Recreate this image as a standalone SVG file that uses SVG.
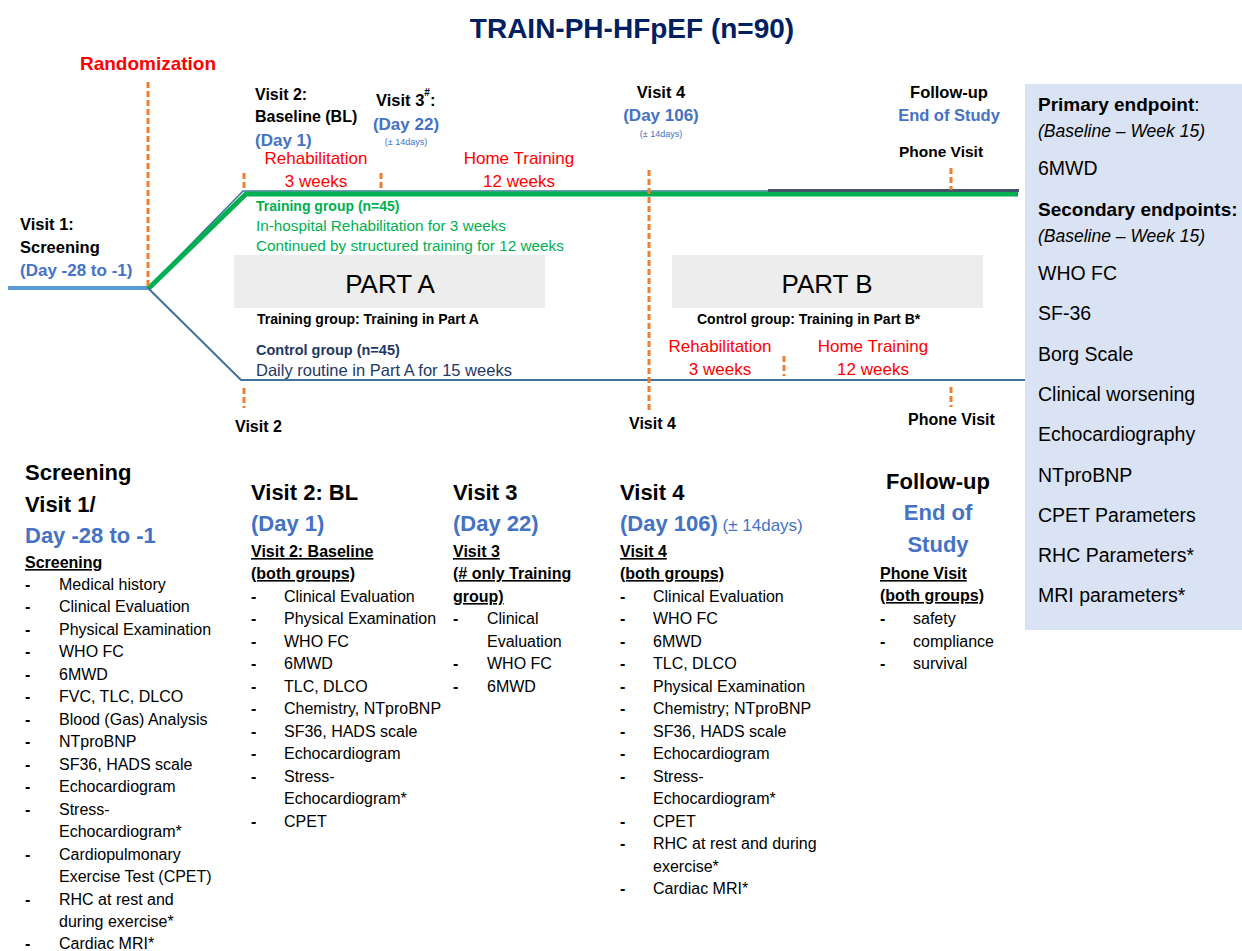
<svg xmlns="http://www.w3.org/2000/svg" width="1242" height="951" viewBox="0 0 1242 951">
<style>
text{font-family:"Liberation Sans",Arial,sans-serif;fill:#000}
.b{font-weight:bold}
.blue{fill:#4472C4}
.red{fill:#FF0000}
.green{fill:#00B050}
.navy{fill:#1F3864}
.m{text-anchor:middle}
.u{text-decoration:underline}
.od{stroke:#ED7D31;stroke-width:3;stroke-dasharray:6,3;fill:none}
.it{font-size:16px}
.dash{font-weight:bold}
.rp{font-size:19.5px}
.hd{font-size:22px;font-weight:bold}
</style>
<rect width="1242" height="951" fill="#fff"/>
<g id="title"><text x="632" y="38" class="b m" fill="#002060" style="fill:#002060" font-size="28">TRAIN-PH-HFpEF (n=90)</text></g>

<g id="endpoints-panel">
<rect x="1025" y="84" width="217" height="546" fill="#DAE3F3"/>
<text x="1038" y="111" font-size="19"><tspan class="b">Primary endpoint</tspan>:</text>
<text x="1038" y="137" font-size="17.5" font-style="italic">(Baseline – Week 15)</text>
<text x="1038" y="175" class="rp">6MWD</text>
<text x="1038" y="216" font-size="19" class="b">Secondary endpoints:</text>
<text x="1038" y="242" font-size="17.5" font-style="italic">(Baseline – Week 15)</text>
<text x="1038" y="280" class="rp">WHO FC</text>
<text x="1038" y="320" class="rp">SF-36</text>
<text x="1038" y="361" class="rp">Borg Scale</text>
<text x="1038" y="401" class="rp">Clinical worsening</text>
<text x="1038" y="441" class="rp">Echocardiography</text>
<text x="1038" y="482" class="rp">NTproBNP</text>
<text x="1038" y="522" class="rp">CPET Parameters</text>
<text x="1038" y="562" class="rp">RHC Parameters*</text>
<text x="1038" y="602" class="rp">MRI parameters*</text>
</g>

<g id="connectors">
<line x1="8" y1="288" x2="148" y2="288" stroke="#5B9BD5" stroke-width="4"/>
<polyline points="148,288 243,191 768,191" fill="none" stroke="#41719C" stroke-width="1.5"/>
<polyline points="148,289 246,194 1018,194" fill="none" stroke="#00B050" stroke-width="5"/>
<line x1="768" y1="190.5" x2="1019" y2="190.5" stroke="#44546A" stroke-width="3"/>
<polyline points="148,288 241,380 1025,380" fill="none" stroke="#41719C" stroke-width="2"/>
<line class="od" x1="148" y1="82" x2="148" y2="288"/>
<line class="od" x1="244" y1="173" x2="244" y2="191"/>
<line class="od" x1="381" y1="173" x2="381" y2="191"/>
<line class="od" x1="649" y1="170" x2="649" y2="410"/>
<line class="od" x1="951" y1="168" x2="951" y2="190"/>
<line class="od" x1="244" y1="388" x2="244" y2="408"/>
<line class="od" x1="784" y1="356" x2="784" y2="376"/>
<line class="od" x1="951" y1="387" x2="951" y2="407"/>
</g>

<g id="randomization"><text x="148" y="70" class="b m red" font-size="19">Randomization</text></g>

<g id="visit1-top">
<text x="20" y="230" class="b" font-size="16.5">Visit 1:</text>
<text x="20" y="253" class="b" font-size="16.5">Screening</text>
<text x="20" y="276" class="b blue" font-size="17">(Day -28 to -1)</text>
</g>

<g id="visit2-top">
<text x="255" y="100" class="b" font-size="16">Visit 2:</text>
<text x="255" y="122" class="b" font-size="16">Baseline (BL)</text>
<text x="255" y="146" class="b blue" font-size="17">(Day 1)</text>
</g>

<g id="visit3-top">
<text x="376" y="106" class="b" font-size="16.5">Visit 3<tspan font-size="10" dy="-10">#</tspan><tspan dy="10">:</tspan></text>
<text x="406" y="130" class="b blue m" font-size="17">(Day 22)</text>
<text x="406" y="145" class="blue m" font-size="9">(± 14days)</text>
</g>

<g id="visit4-top">
<text x="661" y="98" class="b m" font-size="16.5">Visit 4</text>
<text x="661" y="121" class="b m blue" font-size="17">(Day 106)</text>
<text x="661" y="137" class="m blue" font-size="9">(± 14days)</text>
</g>

<g id="followup-top">
<text x="949" y="98" class="b m" font-size="16.5">Follow-up</text>
<text x="949" y="121" class="b m blue" font-size="16.5">End of Study</text>
<text x="941" y="157" class="b m" font-size="15.5">Phone Visit</text>
</g>

<g id="phase-labels-top">
<text x="316" y="164" class="m red" font-size="17">Rehabilitation</text>
<text x="316" y="187" class="m red" font-size="17">3 weeks</text>
<text x="519" y="164" class="m red" font-size="17">Home Training</text>
<text x="519" y="187" class="m red" font-size="17">12 weeks</text>
</g>

<g id="training-group">
<text x="256" y="211" class="b green" font-size="14">Training group  (n=45)</text>
<text x="256" y="231" class="green" font-size="15.3">In-hospital Rehabilitation for 3 weeks</text>
<text x="256" y="251" class="green" font-size="15.3">Continued by structured training for 12 weeks</text>
</g>

<g id="part-a">
<rect x="234" y="255" width="311" height="53" fill="#EDEDED"/>
<text x="390" y="293" class="m" font-size="26">PART A</text>
<text x="257" y="324" class="b" font-size="14">Training group: Training in Part A</text>
</g>

<g id="control-group">
<text x="256" y="355" class="b navy" font-size="14.5">Control group (n=45)</text>
<text x="256" y="376" class="navy" font-size="16.5">Daily routine in Part A for 15 weeks</text>
</g>

<g id="part-b">
<rect x="672" y="255" width="311" height="53" fill="#EDEDED"/>
<text x="827" y="293" class="m" font-size="26">PART B</text>
<text x="697" y="324" class="b" font-size="14">Control group: Training in Part B*</text>
<text x="720" y="352" class="m red" font-size="17">Rehabilitation</text>
<text x="720" y="375" class="m red" font-size="17">3 weeks</text>
<text x="873" y="352" class="m red" font-size="17">Home Training</text>
<text x="873" y="375" class="m red" font-size="17">12 weeks</text>
</g>

<g id="bottom-markers">
<text x="235" y="432" class="b" font-size="16">Visit 2</text>
<text x="629" y="429" class="b" font-size="16">Visit 4</text>
<text x="908" y="425" class="b" font-size="16">Phone Visit</text>
</g>

<g id="col-screening">
<text x="25" y="480" class="hd">Screening</text>
<text x="25" y="512" class="hd">Visit 1/</text>
<text x="25" y="543" class="hd blue">Day -28 to -1</text>
<text x="25" y="568" class="b u it">Screening</text>
<g class="it">
<text x="25" y="590" class="dash">-</text><text x="59" y="590">Medical history</text>
<text x="25" y="612" class="dash">-</text><text x="59" y="612">Clinical Evaluation</text>
<text x="25" y="635" class="dash">-</text><text x="59" y="635">Physical Examination</text>
<text x="25" y="657" class="dash">-</text><text x="59" y="657">WHO FC</text>
<text x="25" y="680" class="dash">-</text><text x="59" y="680">6MWD</text>
<text x="25" y="702" class="dash">-</text><text x="59" y="702">FVC, TLC, DLCO</text>
<text x="25" y="725" class="dash">-</text><text x="59" y="725">Blood (Gas) Analysis</text>
<text x="25" y="747" class="dash">-</text><text x="59" y="747">NTproBNP</text>
<text x="25" y="770" class="dash">-</text><text x="59" y="770">SF36, HADS scale</text>
<text x="25" y="792" class="dash">-</text><text x="59" y="792">Echocardiogram</text>
<text x="25" y="815" class="dash">-</text><text x="59" y="815">Stress-</text>
<text x="59" y="837">Echocardiogram*</text>
<text x="25" y="860" class="dash">-</text><text x="59" y="860">Cardiopulmonary</text>
<text x="59" y="882">Exercise Test (CPET)</text>
<text x="25" y="905" class="dash">-</text><text x="59" y="905">RHC at rest and</text>
<text x="59" y="927">during exercise*</text>
<text x="25" y="949" class="dash">-</text><text x="59" y="949">Cardiac MRI*</text>
</g>
</g>

<g id="col-visit2">
<text x="251" y="500" class="hd">Visit 2: BL</text>
<text x="251" y="531" class="hd blue">(Day 1)</text>
<text x="251" y="557" class="b u it">Visit 2: Baseline</text>
<text x="251" y="579" class="b u it">(both groups)</text>
<g class="it">
<text x="251" y="602" class="dash">-</text><text x="284" y="602">Clinical Evaluation</text>
<text x="251" y="624" class="dash">-</text><text x="284" y="624">Physical Examination</text>
<text x="251" y="647" class="dash">-</text><text x="284" y="647">WHO FC</text>
<text x="251" y="669" class="dash">-</text><text x="284" y="669">6MWD</text>
<text x="251" y="692" class="dash">-</text><text x="284" y="692">TLC, DLCO</text>
<text x="251" y="714" class="dash">-</text><text x="284" y="714">Chemistry, NTproBNP</text>
<text x="251" y="737" class="dash">-</text><text x="284" y="737">SF36, HADS scale</text>
<text x="251" y="759" class="dash">-</text><text x="284" y="759">Echocardiogram</text>
<text x="251" y="782" class="dash">-</text><text x="284" y="782">Stress-</text>
<text x="284" y="804">Echocardiogram*</text>
<text x="251" y="827" class="dash">-</text><text x="284" y="827">CPET</text>
</g>
</g>

<g id="col-visit3">
<text x="453" y="500" class="hd">Visit 3</text>
<text x="453" y="531" class="hd blue">(Day 22)</text>
<text x="453" y="557" class="b u it">Visit 3</text>
<text x="453" y="579" class="b u it">(# only Training</text>
<text x="453" y="602" class="b u it">group)</text>
<g class="it">
<text x="453" y="624" class="dash">-</text><text x="487" y="624">Clinical</text>
<text x="487" y="647">Evaluation</text>
<text x="453" y="669" class="dash">-</text><text x="487" y="669">WHO FC</text>
<text x="453" y="692" class="dash">-</text><text x="487" y="692">6MWD</text>
</g>
</g>

<g id="col-visit4">
<text x="620" y="500" class="hd">Visit 4</text>
<text x="620" y="531" class="hd blue">(Day 106)<tspan font-size="17" font-weight="normal"> (± 14days)</tspan></text>
<text x="620" y="557" class="b u it">Visit 4</text>
<text x="620" y="579" class="b u it">(both groups)</text>
<g class="it">
<text x="620" y="602" class="dash">-</text><text x="653" y="602">Clinical Evaluation</text>
<text x="620" y="624" class="dash">-</text><text x="653" y="624">WHO FC</text>
<text x="620" y="647" class="dash">-</text><text x="653" y="647">6MWD</text>
<text x="620" y="669" class="dash">-</text><text x="653" y="669">TLC, DLCO</text>
<text x="620" y="692" class="dash">-</text><text x="653" y="692">Physical Examination</text>
<text x="620" y="714" class="dash">-</text><text x="653" y="714">Chemistry; NTproBNP</text>
<text x="620" y="737" class="dash">-</text><text x="653" y="737">SF36, HADS scale</text>
<text x="620" y="759" class="dash">-</text><text x="653" y="759">Echocardiogram</text>
<text x="620" y="782" class="dash">-</text><text x="653" y="782">Stress-</text>
<text x="653" y="804">Echocardiogram*</text>
<text x="620" y="827" class="dash">-</text><text x="653" y="827">CPET</text>
<text x="620" y="849" class="dash">-</text><text x="653" y="849">RHC at rest and during</text>
<text x="653" y="872">exercise*</text>
<text x="620" y="894" class="dash">-</text><text x="653" y="894">Cardiac MRI*</text>
</g>
</g>

<g id="col-followup">
<text x="938" y="489" class="hd m">Follow-up</text>
<text x="938" y="520" class="hd m blue">End of</text>
<text x="938" y="552" class="hd m blue">Study</text>
<text x="880" y="579" class="b u it">Phone Visit</text>
<text x="880" y="601" class="b u it">(both groups)</text>
<g class="it">
<text x="880" y="624" class="dash">-</text><text x="913" y="624">safety</text>
<text x="880" y="647" class="dash">-</text><text x="913" y="647">compliance</text>
<text x="880" y="669" class="dash">-</text><text x="913" y="669">survival</text>
</g>
</g>
</svg>
